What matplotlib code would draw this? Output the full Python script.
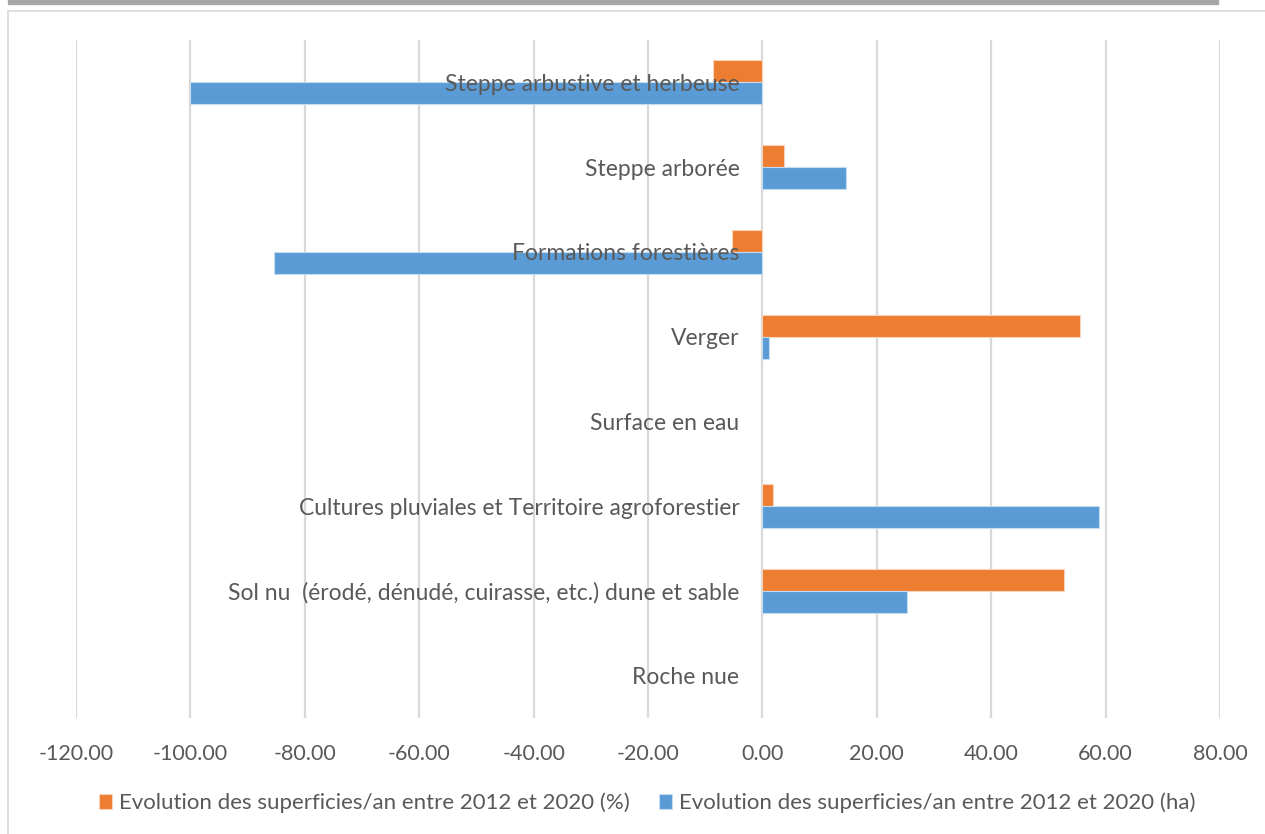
import matplotlib
matplotlib.use("Agg")
import matplotlib.pyplot as plt
from matplotlib.patches import Rectangle
from matplotlib.lines import Line2D
from matplotlib.transforms import offset_copy
import numpy as np

categories = [
    "Steppe arbustive et herbeuse",
    "Steppe arborée",
    "Formations forestières",
    "Verger",
    "Surface en eau",
    "Cultures pluviales et Territoire agroforestier",
    "Sol nu  (érodé, dénudé, cuirasse, etc.) dune et sable",
    "Roche nue",
]
pct_values = [-8.7, 3.8, -5.4, 55.6, 0.0, 1.9, 52.7, 0.0]
ha_values = [-100.0, 14.7, -85.4, 1.2, 0.0, 58.9, 25.2, 0.0]
series_names = [
    "Evolution des superficies/an entre 2012 et 2020 (%)",
    "Evolution des superficies/an entre 2012 et 2020 (ha)",
]
xticks = [-120, -100, -80, -60, -40, -20, 0, 20, 40, 60, 80]

plt.rcParams['font.family'] = ['Lato', 'DejaVu Sans']
TXT = "#595959"
ORANGE = "#ED7D31"
BLUE = "#5B9BD5"

W, H = 1265, 834
fig = plt.figure(figsize=(W / 100, H / 100), dpi=100)

# decorative frame
fig.patches.append(Rectangle((8 / W, 1 - 3.5 / H), 1210 / W, 3.5 / H,
                             transform=fig.transFigure, color="#a6a6a6", zorder=0))
fig.lines.append(Line2D([8 / W, 8 / W], [0, 1 - 11 / H], transform=fig.transFigure,
                        color="#d9d9d9", lw=1.2))
fig.lines.append(Line2D([8 / W, 1], [1 - 11 / H, 1 - 11 / H], transform=fig.transFigure,
                        color="#d9d9d9", lw=1.2))

left, right, top, bottom = 76, 1220, 40, 718
ax = fig.add_axes([left / W, 1 - bottom / H, (right - left) / W, (bottom - top) / H])

n = len(categories)
y = np.arange(n)
h = 0.26
ax.barh(y - h / 2, pct_values, height=h, color=ORANGE, edgecolor="#f8d3bb",
        linewidth=[0.8 if v != 0 else 0 for v in pct_values],
        label=series_names[0], zorder=3)
ax.barh(y + h / 2, ha_values, height=h, color=BLUE, edgecolor="#c5dcf0",
        linewidth=[0.8 if v != 0 else 0 for v in ha_values],
        label=series_names[1], zorder=3)

ax.set_ylim(n - 0.5, -0.5)
ax.set_xlim(-120, 80)
ax.set_xticks(xticks)
ax.set_xticklabels([f"{v:.2f}" for v in xticks])
ax.set_yticks([])
ax.grid(axis="x", color="#d9d9d9", linewidth=1.6, zorder=0)
ax.set_axisbelow(True)
for s in ax.spines.values():
    s.set_visible(False)
ax.tick_params(axis="x", length=0, pad=19, labelsize=15.5, labelcolor=TXT)

trans = offset_copy(ax.transData, fig=fig, x=-23, y=-2, units="dots")
for yi, cat in zip(y, categories):
    ax.text(0, yi, cat, transform=trans, ha="right", va="center",
            fontsize=16.5, color=TXT, zorder=4)

handles, labels = ax.get_legend_handles_labels()
leg = fig.legend(handles, labels, loc="center", ncol=2,
                 bbox_to_anchor=(647 / W, 1 - 803 / H), frameon=False,
                 fontsize=16, labelcolor=TXT, handlelength=0.6, handleheight=0.6,
                 handletextpad=0.3, columnspacing=1.3)

fig.savefig("out.png", dpi=100, facecolor="white")
